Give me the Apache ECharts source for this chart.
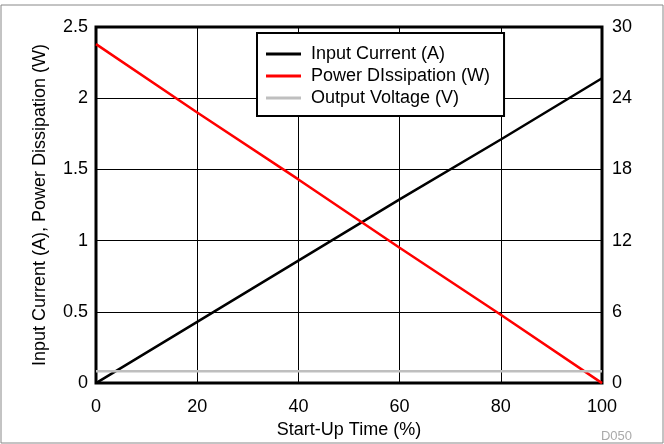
<!DOCTYPE html>
<html>
<head>
<meta charset="utf-8">
<script src="https://cdn.jsdelivr.net/npm/echarts@6/dist/echarts.min.js"></script>
<style>
html, body { margin: 0; padding: 0; background: #fff; }
#chart { width: 664px; height: 444px; }
</style>
</head>
<body>
<div id="chart"></div>
<script>
var startUpTime = [0, 20, 40, 60, 80, 100];
var inputCurrent = [0, 0.43, 0.86, 1.29, 1.71, 2.14];
var powerDissipation = [2.38, 1.9, 1.43, 0.95, 0.48, 0];
var outputVoltage = [1, 1, 1, 1, 1, 1];

function pairs(xs, ys) {
    var out = [];
    for (var i = 0; i < xs.length; i++) {
        out.push([xs[i], ys[i]]);
    }
    return out;
}

var myChart = echarts.init(document.getElementById('chart'));
var font = 'Liberation Sans, Arial, sans-serif';
var option = {
    animation: false,
    textStyle: {fontFamily: font},
    grid: {
        left: 96, right: 62, top: 27, bottom: 60,
        show: true, borderColor: '#000', borderWidth: 3
    },
    legend: {
        orient: 'vertical',
        left: 257, top: 33,
        padding: [12, 14, 9, 9],
        backgroundColor: '#fff',
        borderColor: '#000',
        borderWidth: 2,
        itemWidth: 35,
        itemHeight: 3,
        itemGap: 4,
        icon: 'rect',
        textStyle: {fontSize: 18, color: '#000', fontFamily: font, padding: [0, 0, 0, 5]},
        data: ['Input Current (A)', 'Power DIssipation (W)', 'Output Voltage (V)']
    },
    xAxis: {
        type: 'value',
        min: 0, max: 100, interval: 20,
        name: 'Start-Up Time (%)',
        nameLocation: 'middle',
        nameGap: 35,
        nameTextStyle: {fontSize: 18, color: '#000'},
        axisLine: {show: false},
        axisTick: {show: false},
        axisLabel: {fontSize: 18, color: '#000', margin: 15},
        splitLine: {lineStyle: {color: '#000', width: 1}}
    },
    yAxis: [
        {
            type: 'value',
            min: 0, max: 2.5, interval: 0.5,
            name: 'Input Current (A), Power Dissipation (W)',
            nameLocation: 'middle',
            nameGap: 47,
            nameTextStyle: {fontSize: 18, color: '#000'},
            axisLine: {show: false},
            axisTick: {show: false},
            axisLabel: {fontSize: 18, color: '#000', margin: 8},
            splitLine: {lineStyle: {color: '#000', width: 1}}
        },
        {
            type: 'value',
            min: 0, max: 30, interval: 6,
            position: 'right',
            axisLine: {show: false},
            axisTick: {show: false},
            axisLabel: {fontSize: 18, color: '#000', margin: 10},
            splitLine: {show: false}
        }
    ],
    series: [
        {
            name: 'Input Current (A)',
            type: 'line',
            symbol: 'none',
            color: '#000',
            lineStyle: {width: 2.5, color: '#000'},
            data: pairs(startUpTime, inputCurrent)
        },
        {
            name: 'Power DIssipation (W)',
            type: 'line',
            symbol: 'none',
            color: '#ff0000',
            lineStyle: {width: 2.5, color: '#ff0000'},
            data: pairs(startUpTime, powerDissipation)
        },
        {
            name: 'Output Voltage (V)',
            type: 'line',
            yAxisIndex: 1,
            symbol: 'none',
            color: '#bfbfbf',
            lineStyle: {width: 2.5, color: '#bfbfbf'},
            data: pairs(startUpTime, outputVoltage)
        }
    ],
    graphic: [
        {
            type: 'rect',
            shape: {x: 1, y: 5, width: 662, height: 438},
            style: {fill: 'none', stroke: '#888', lineWidth: 1},
            silent: true
        },
        {
            type: 'text',
            right: 32, bottom: 1,
            style: {text: 'D050', fill: '#aaa', fontSize: 13, fontFamily: font}
        }
    ]
};

myChart.setOption(option);
</script>
</body>
</html>
